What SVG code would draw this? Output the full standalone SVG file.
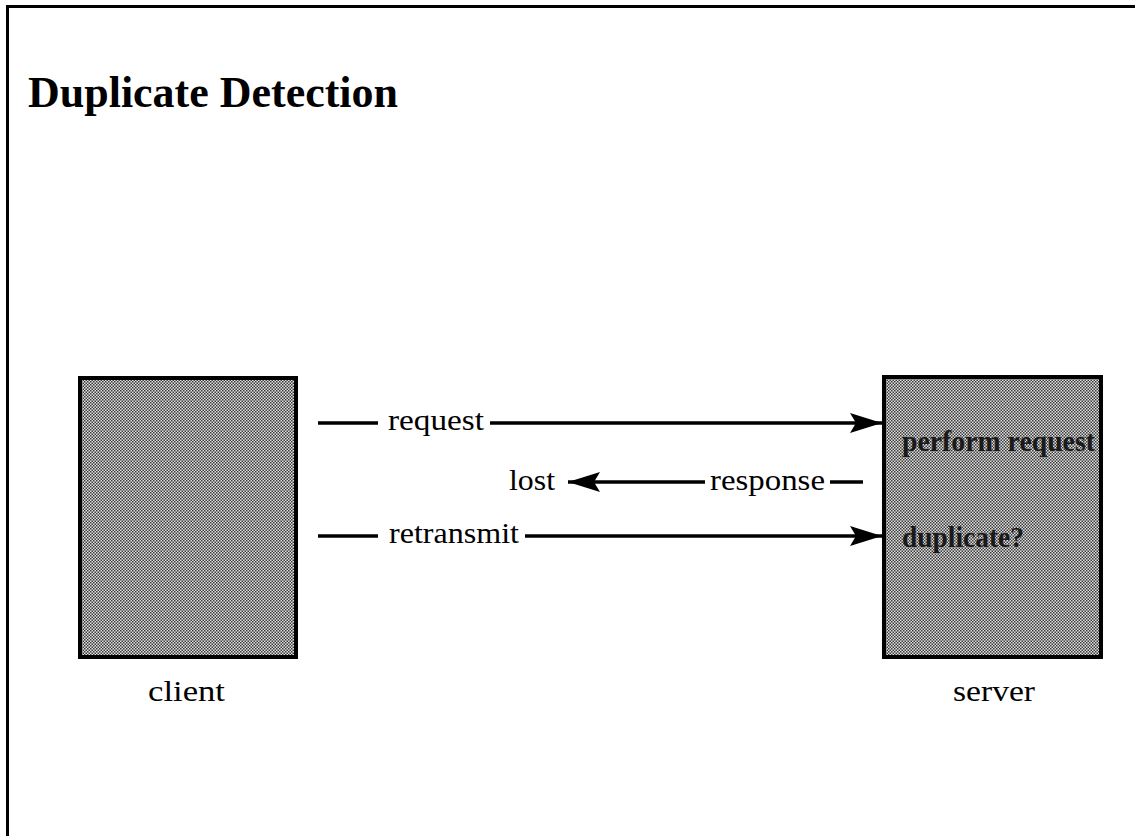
<svg xmlns="http://www.w3.org/2000/svg" width="1135" height="836" viewBox="0 0 1135 836">
<defs>
<pattern id="dither" width="3" height="3" patternUnits="userSpaceOnUse">
<rect width="3" height="3" fill="#e0e0e0"/>
<rect x="0" y="0" width="1.5" height="1.5" fill="#3a3a3a"/>
<rect x="1.5" y="1.5" width="1.5" height="1.5" fill="#3a3a3a"/>
</pattern>
<marker id="head" markerUnits="userSpaceOnUse" markerWidth="36" markerHeight="24" refX="32" refY="10" orient="auto">
<path d="M0,0 L32,10 L0,20 L6,10 Z" fill="#000"/>
</marker>
</defs>
<style>
.frame{fill:none;stroke:#000;stroke-width:3}
.box{fill:url(#dither);stroke:#000;stroke-width:4}
.ln{stroke:#000;stroke-width:3.5;fill:none}
.lbl{font-family:"Liberation Serif","Times New Roman",serif;font-size:29px;fill:#000}
.inbox{font-family:"Liberation Serif","Times New Roman",serif;font-size:29px;font-weight:bold;fill:#1a1a1a}
.title{font-family:"Liberation Serif","Times New Roman",serif;font-size:44px;font-weight:bold;fill:#000}
</style>
<rect width="1135" height="836" fill="#fff"/>
<path class="frame" d="M7.5,836 L7.5,6.5 L1135,6.5"/>
<text class="title" x="28" y="107" textLength="370" lengthAdjust="spacingAndGlyphs">Duplicate Detection</text>
<g id="client">
<rect class="box" x="80" y="378" width="216" height="279"/>
<text class="lbl" x="148" y="701" textLength="77" lengthAdjust="spacingAndGlyphs">client</text>
</g>
<g id="server">
<rect class="box" x="884" y="377" width="217" height="280"/>
<text class="inbox" x="902" y="451" textLength="193" lengthAdjust="spacingAndGlyphs">perform request</text>
<text class="inbox" x="902" y="547" textLength="122" lengthAdjust="spacingAndGlyphs">duplicate?</text>
<text class="lbl" x="953" y="701" textLength="82" lengthAdjust="spacingAndGlyphs">server</text>
</g>
<g id="connectors">
<line class="ln" x1="318" y1="423" x2="378" y2="423"/>
<text class="lbl" x="388" y="430" textLength="96" lengthAdjust="spacingAndGlyphs">request</text>
<line class="ln" x1="490" y1="423" x2="882" y2="423" marker-end="url(#head)"/>
<text class="lbl" x="509" y="490" textLength="46" lengthAdjust="spacingAndGlyphs">lost</text>
<line class="ln" x1="705" y1="482" x2="568" y2="482" marker-end="url(#head)"/>
<text class="lbl" x="710" y="490" textLength="115" lengthAdjust="spacingAndGlyphs">response</text>
<line class="ln" x1="830" y1="482" x2="863" y2="482"/>
<line class="ln" x1="318" y1="536" x2="378" y2="536"/>
<text class="lbl" x="389" y="543" textLength="130" lengthAdjust="spacingAndGlyphs">retransmit</text>
<line class="ln" x1="525" y1="536" x2="882" y2="536" marker-end="url(#head)"/>
</g>
</svg>
